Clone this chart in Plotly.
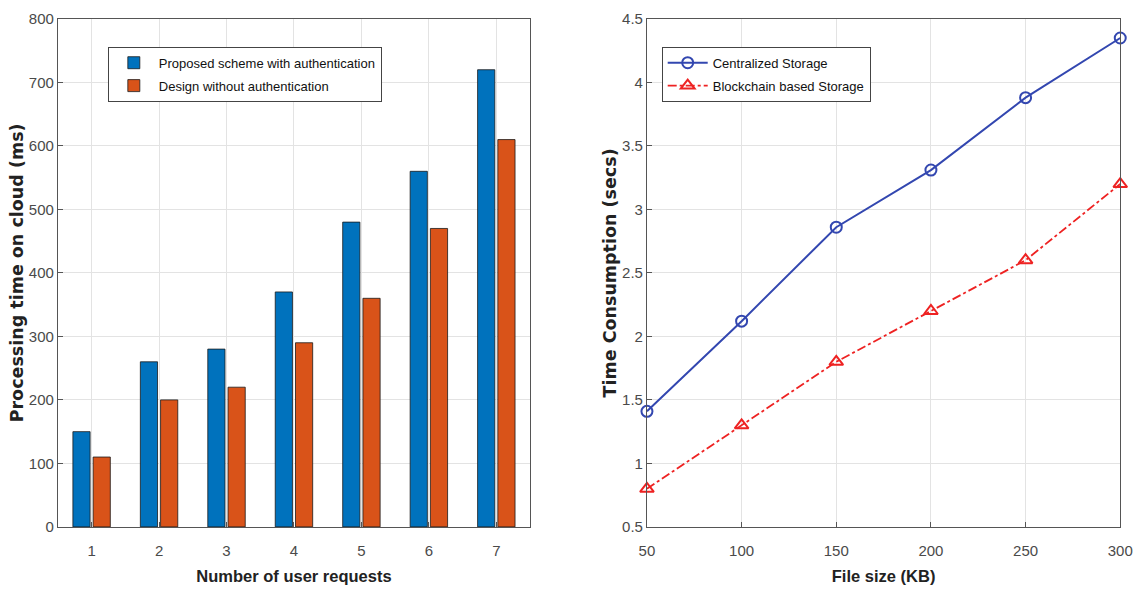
import plotly.graph_objects as go

requests = [1, 2, 3, 4, 5, 6, 7]
proposed = [150, 260, 280, 370, 480, 560, 720]
without_auth = [110, 200, 220, 290, 360, 470, 610]

file_size = [50, 100, 150, 200, 250, 300]
centralized = [1.41, 2.12, 2.86, 3.31, 3.88, 4.35]
blockchain = [0.80, 1.30, 1.80, 2.20, 2.60, 3.20]

base = "Liberation Sans, Arial"
tick_font = dict(family=base, size=15, color="#4a4a4a")
ytitle_font = dict(family="DejaVu Sans, Verdana", size=17.5, color="#222222")
xtitle_font = dict(family=base, size=16.5, color="#222222")

fig = go.Figure()
fig.add_trace(go.Bar(x=requests, y=proposed, name="Proposed scheme with authentication",
                     marker=dict(color="#0072BD", line=dict(color="#1a1a1a", width=0.8)),
                     xaxis="x", yaxis="y", legend="legend", legendgroup="a"))
fig.add_trace(go.Bar(x=requests, y=without_auth, name="Design without authentication",
                     marker=dict(color="#D95319", line=dict(color="#1a1a1a", width=0.8)),
                     xaxis="x", yaxis="y", legend="legend", legendgroup="b"))
fig.add_trace(go.Scatter(x=file_size, y=centralized, name="Centralized Storage", mode="lines+markers",
                         line=dict(color="#3347B0", width=2),
                         marker=dict(symbol="circle-open", size=11, color="#3347B0", line=dict(width=2)),
                         xaxis="x2", yaxis="y2", legend="legend2", legendgroup="c", cliponaxis=False))
fig.add_trace(go.Scatter(x=file_size, y=blockchain, name="Blockchain based Storage", mode="lines+markers",
                         line=dict(color="#EE2222", width=1.8, dash="dashdot"),
                         marker=dict(symbol="triangle-up-open", size=12, color="#EE2222", line=dict(width=2)),
                         xaxis="x2", yaxis="y2", legend="legend2", legendgroup="d", cliponaxis=False))

axis_common = dict(showline=True, linecolor="#555555", linewidth=1, mirror=True,
                   ticks="inside", ticklen=5, tickcolor="#555555",
                   showgrid=True, gridcolor="#E3E3E3", gridwidth=1, zeroline=False,
                   tickfont=tick_font, automargin=False)

fig.update_layout(
    width=1135, height=592,
    margin=dict(l=0, r=0, t=0, b=0, autoexpand=False),
    paper_bgcolor="white", plot_bgcolor="white",
    barmode="group", bargap=0.4, bargroupgap=0.15,
    showlegend=True,
    xaxis=dict(domain=[0.051, 0.467], range=[0.5, 7.5], tickvals=requests, anchor="y", ticklabelstandoff=10,
               title=dict(text="<b>Number of user requests</b>", font=xtitle_font, standoff=12), **axis_common),
    yaxis=dict(domain=[0.110, 0.968], range=[0, 800], dtick=100, anchor="x",
               title=dict(text="<b>Processing time on cloud (ms)</b>", font=ytitle_font, standoff=0), **axis_common),
    xaxis2=dict(domain=[0.570, 0.987], range=[50, 300], dtick=50, anchor="y2", ticklabelstandoff=10,
                title=dict(text="<b>File size (KB)</b>", font=xtitle_font, standoff=12), **axis_common),
    yaxis2=dict(domain=[0.110, 0.968], range=[0.5, 4.5], dtick=0.5, anchor="x2",
                title=dict(text="<b>Time Consumption (secs)</b>", font=ytitle_font, standoff=0), **axis_common),
    legend=dict(x=0.095, y=0.921, xanchor="left", yanchor="top",
                bgcolor="white", bordercolor="#444444", borderwidth=1,
                font=dict(family=base, size=13, color="#111111"),
                tracegroupgap=3, itemwidth=40),
    legend2=dict(x=0.583, y=0.921, xanchor="left", yanchor="top",
                 bgcolor="white", bordercolor="#444444", borderwidth=1,
                 font=dict(family=base, size=13, color="#111111"),
                 tracegroupgap=3, itemwidth=40),
)

fig.write_html("out.html", config={"displayModeBar": False},
               post_script="document.body.style.margin='0';document.body.style.overflow='hidden';")
